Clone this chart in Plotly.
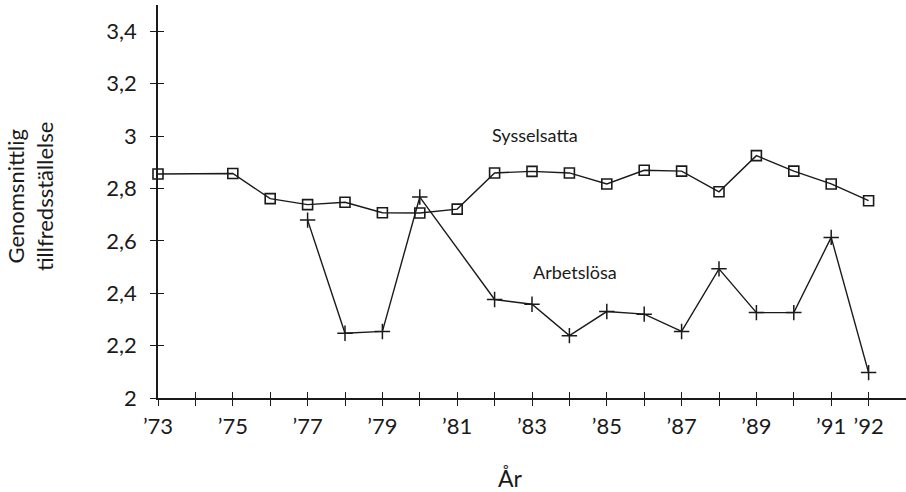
import plotly.graph_objects as go

years_syss = [73, 75, 76, 77, 78, 79, 80, 81, 82, 83, 84, 85, 86, 87, 88, 89, 90, 91, 92]
sysselsatta = [2.855, 2.857, 2.761, 2.738, 2.747, 2.707, 2.706, 2.721, 2.859, 2.865, 2.859,
               2.817, 2.869, 2.866, 2.787, 2.925, 2.866, 2.817, 2.753]
years_arb = [77, 78, 79, 80, 82, 83, 84, 85, 86, 87, 88, 89, 90, 91, 92]
arbetslosa = [2.679, 2.247, 2.254, 2.767, 2.376, 2.358, 2.238, 2.33, 2.32, 2.254, 2.493,
              2.326, 2.326, 2.613, 2.097]

x_tickvals = list(range(73, 93))
x_labeled = {73, 75, 77, 79, 81, 83, 85, 87, 89, 91, 92}
x_ticktext = [("\u2019%d" % y) if y in x_labeled else "" for y in x_tickvals]
y_tickvals = [2, 2.2, 2.4, 2.6, 2.8, 3, 3.2, 3.4]
y_ticktext = ["2", "2,2", "2,4", "2,6", "2,8", "3", "3,2", "3,4"]

FONT = "Lato"
INK = "#1a1a1a"

fig = go.Figure()
fig.add_trace(go.Scatter(
    x=years_syss, y=sysselsatta, mode="lines+markers", name="Sysselsatta",
    line=dict(color=INK, width=1.4),
    marker=dict(symbol="square-open", size=10, color=INK, line=dict(width=1.6)),
    cliponaxis=False, showlegend=False))
fig.add_trace(go.Scatter(
    x=years_arb, y=arbetslosa, mode="lines+markers", name="Arbetslösa",
    line=dict(color=INK, width=1.4),
    marker=dict(symbol="cross-thin-open", size=11, color=INK, line=dict(width=1.5, color=INK)),
    cliponaxis=False, showlegend=False))
# invisible trace on overlay axes (for crossing ticks)
fig.add_trace(go.Scatter(x=[years_syss[0]], y=[sysselsatta[0]], xaxis="x2", yaxis="y2",
                         mode="markers", marker=dict(opacity=0), showlegend=False, hoverinfo="skip"))

common_x = dict(range=[73, 93], tickvals=x_tickvals, showgrid=False, zeroline=False, automargin=False)
common_y = dict(range=[2, 3.5], tickvals=y_tickvals, showgrid=False, zeroline=False, automargin=False)

W, H, L, T, B = 906, 492, 158, 5, 94
PW, PH = W - L, H - T - B

fig.update_layout(
    width=W, height=H,
    margin=dict(l=L, r=0, t=T, b=B),
    paper_bgcolor="white", plot_bgcolor="white",
    font=dict(family=FONT, color=INK),
    xaxis=dict(**common_x, ticktext=x_ticktext, ticks="outside", ticklen=6, tickwidth=1.2,
               tickcolor=INK, showline=True, linecolor=INK, linewidth=1.5,
               tickfont=dict(size=22, family=FONT, color=INK), ticklabelstandoff=2),
    yaxis=dict(**common_y, ticktext=y_ticktext, ticks="outside", ticklen=6, tickwidth=1.2,
               tickcolor=INK, showline=True, linecolor=INK, linewidth=1.5,
               tickfont=dict(size=22, family=FONT, color=INK), ticklabelstandoff=9),
    xaxis2=dict(**common_x, overlaying="x", matches="x", ticks="inside", ticklen=6,
                tickwidth=1.2, tickcolor=INK, showticklabels=False, showline=False),
    yaxis2=dict(**common_y, overlaying="y", matches="y", ticks="inside", ticklen=6,
                tickwidth=1.2, tickcolor=INK, showticklabels=False, showline=False),
    annotations=[
        dict(text="Sysselsatta", x=83.08, y=3.005, xref="x", yref="y", showarrow=False,
             font=dict(size=18, family=FONT, color=INK)),
        dict(text="Arbetslösa", x=84.15, y=2.48, xref="x", yref="y", showarrow=False,
             font=dict(size=18, family=FONT, color=INK)),
        dict(text="Genomsnittlig<br>tillfredsställelse", x=(30 - L) / PW, y=(H - B - 197) / PH,
             xref="paper", yref="paper", xanchor="center", yanchor="middle",
             showarrow=False, textangle=-90,
             font=dict(size=22, family=FONT, color=INK)),
        dict(text="År", x=(510 - L) / PW, y=(H - B - 478) / PH, xref="paper", yref="paper",
             xanchor="center", yanchor="middle",
             showarrow=False, font=dict(size=23, family=FONT, color=INK)),
    ],
)

fig.write_html("out.html", config={"displayModeBar": False},
               post_script="document.body.style.margin='0';")
